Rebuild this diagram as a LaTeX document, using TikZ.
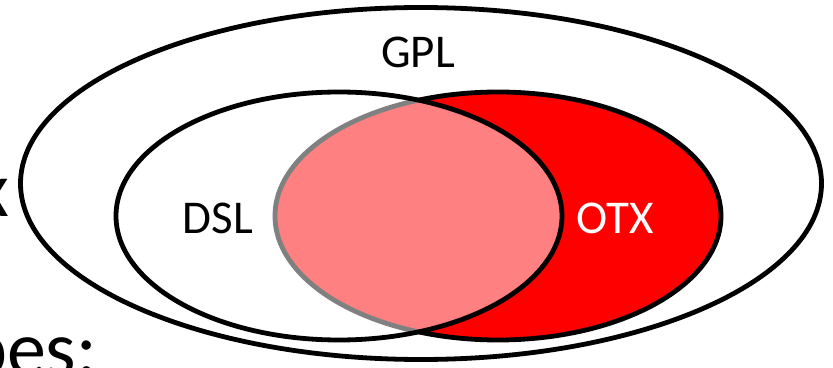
\documentclass[tikz,border=0pt]{standalone}
\usepackage{fontspec}
\setmainfont{Carlito}
\usetikzlibrary{shapes.geometric}
\begin{document}
\begin{tikzpicture}[x=1pt,y=1pt,
  setbox/.style={ellipse, inner sep=0pt, line width=4.8pt, draw=black},
  lbl/.style={font=\fontsize{47}{56}\selectfont, inner sep=0pt},
  bg/.style={font=\fontsize{78}{90}\selectfont, inner sep=0pt}]
\useasboundingbox (0,0) rectangle (833,367);
\clip (0,0) rectangle (833,367);
\fill[white] (0,0) rectangle (833,367);
% background slide text fragments (cut by the frame, as in the reference)
\node[bg, anchor=base east] (frx) at (9,150) {x};
\node[bg, anchor=base west] (frp) at (-34,-9) {pes:};
% GPL
\node[setbox, fill=white, minimum width=801pt, minimum height=352pt] (gpl) at (421,183.5) {};
% OTX
\node[setbox, fill=red, minimum width=446pt, minimum height=248pt] (otx) at (498,151) {};
% DSL (semi-transparent white fill)
\node[setbox, fill=white, fill opacity=0.5, draw opacity=1, minimum width=446pt, minimum height=248pt] (dsl) at (339,151) {};
% labels
\node[lbl] (gpllbl) at (418,315) {GPL};
\node[lbl] (dsllbl) at (218,149) {DSL};
\node[lbl, text=white] (otxlbl) at (615,149) {OTX};
\end{tikzpicture}
\end{document}
